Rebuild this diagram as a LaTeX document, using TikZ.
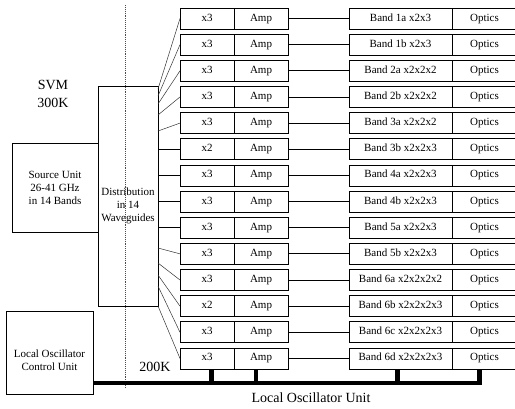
\documentclass[tikz,border=0pt]{standalone}
\usepackage{fontspec}
\setmainfont{Liberation Serif}
\usepackage{tikz}
\usetikzlibrary{positioning}

\begin{document}
\begin{tikzpicture}[x=1pt, y=-1pt,
    box/.style={rectangle, draw=black, line width=0.8pt, inner sep=0pt, outer sep=0pt, font=\fontsize{11}{13}\selectfont, align=center},
    chainbox/.style={box, minimum height=21pt, text height=7.5pt, text depth=2.5pt},
    mulbox/.style={chainbox, minimum width=54pt},
    ampbox/.style={chainbox, minimum width=54pt},
    bandbox/.style={chainbox, minimum width=103pt},
    optbox/.style={chainbox, minimum width=65pt},
    smalltext/.style={align=center, inner sep=0pt, font=\fontsize{11}{13}\selectfont},
    bigtext/.style={align=center, inner sep=0pt, font=\fontsize{14}{18}\selectfont},
    fan/.style={line width=0.5pt, black!80},
    bus/.style={line width=4.5pt}
]
\useasboundingbox (0,0) rectangle (515,408);
\clip (0,0) rectangle (515,408);

\node[box, minimum width=60pt, minimum height=220pt](dist) at (128,196){};
\node[smalltext](distlbl) at (128,206){Distribution\\in 14\\Waveguides};
\node[box, minimum width=86pt, minimum height=89pt](src) at (55,187.5){Source Unit\\26-41 GHz\\in 14 Bands};
\node[box, minimum width=87pt, minimum height=83pt](lo) at (49.5,352.5){};
\node[smalltext](lolbl) at (49.5,360){Local Oscillator\\Control Unit};

% the 14 chains
\foreach \k/\mul/\band in {1/x3/1a x2x3, 2/x3/1b x2x3, 3/x3/2a x2x2x2, 4/x3/2b x2x2x2,
    5/x3/3a x2x2x2, 6/x2/3b x2x2x3, 7/x3/4a x2x2x3, 8/x3/4b x2x2x3, 9/x3/5a x2x2x3,
    10/x3/5b x2x2x3, 11/x3/6a x2x2x2x2, 12/x2/6b x2x2x2x3, 13/x3/6c x2x2x2x3, 14/x3/6d x2x2x2x3}{
  \pgfmathsetmacro{\ry}{18.5+(\k-1)*26.15}
  \node[mulbox](m\k) at (207,\ry){\mul};
  \node[ampbox](a\k)[right = 0pt of m\k]{Amp};
  \node[bandbox](b\k)[right = 61pt of a\k]{Band \band};
  \node[optbox](o\k)[right = 0pt of b\k]{Optics};
  \draw[line width=0.8pt] (a\k.east) -- (b\k.west);
}

\foreach \k/\s in {1/89, 2/96, 3/104, 4/115, 5/131, 10/248, 11/263, 12/275, 13/286}
  \draw[fan] (dist.east |- 0,\s) -- (m\k.west);
\foreach \k in {6,...,9}
  \draw[line width=0.8pt] (m\k.west -| dist.east) -- (m\k.west);
\draw[fan] (dist.south east) -- (m14.west);

\draw[densely dotted, line width=0.9pt, black!70] (125,5) -- (125,388);

% LO bus
\coordinate (busend) at (479.5,383);
\draw[bus] (lo.east |- busend) -- (busend) -- (busend |- o14.south);
\foreach \x in {211.5, 256, 397.5}
  \draw[bus] (\x,383) -- (\x,370);

\node[bigtext](svm) at (53,94){SVM\\300K};
\node[bigtext](cold) at (155,367){200K};
\node[bigtext](lounit) at (311,398){Local Oscillator Unit};
\end{tikzpicture}
\end{document}
